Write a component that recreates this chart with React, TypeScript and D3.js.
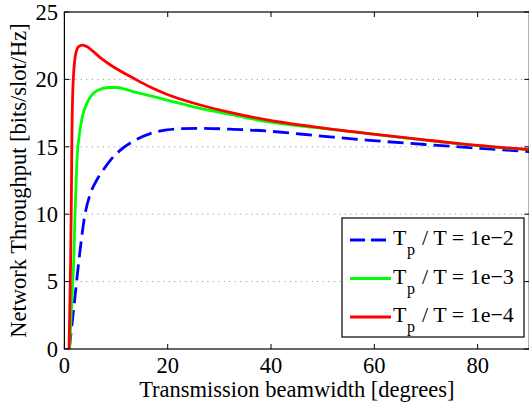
import React from "react";
import * as d3 from "d3";

const redX = [0.9, 1.2, 1.35, 1.47, 1.72, 2.25, 2.8, 3.5, 4.5, 5.5, 7, 9, 11, 13.3, 16.5, 19.8, 26.3, 32.7, 39.2, 48, 58.5, 71.4, 80, 90];
const redY = [0, 6.4, 11.3, 16.2, 20, 22, 22.45, 22.55, 22.4, 22.1, 21.6, 21.05, 20.58, 20.1, 19.45, 18.9, 18.1, 17.5, 17.0, 16.5, 16.0, 15.45, 15.1, 14.8];

const greenX = [1.0, 1.3, 1.55, 1.8, 2.05, 2.4, 2.9, 3.4, 4.0, 5.0, 6.5, 8.5, 10, 13.3, 19.8, 26.3, 32.7, 39.2, 48.8, 58.5, 71.4, 80, 90];
const greenY = [0, 2.5, 4.5, 6.4, 10, 13.8, 15.9, 17.1, 17.9, 18.7, 19.2, 19.4, 19.4, 19.1, 18.47, 17.85, 17.36, 16.86, 16.42, 16.0, 15.42, 15.08, 14.78];

const blueX = [0.95, 2.0, 3.0, 3.9, 5.0, 6.0, 7.2, 9.0, 11.5, 13.3, 16.6, 19.8, 23, 26.3, 32.7, 39.2, 45.6, 52, 58.5, 71.4, 80, 90];
const blueY = [0, 3.7, 7.2, 9.8, 11.5, 12.35, 13.1, 14.05, 14.95, 15.4, 15.98, 16.25, 16.35, 16.37, 16.3, 16.17, 15.95, 15.72, 15.5, 15.13, 14.9, 14.64];

const xTicks = [0, 20, 40, 60, 80];
const yTicks = [0, 5, 10, 15, 20, 25];
const gridY = [5, 10, 15, 20];
const legendLabels = ["1e\u22122", "1e\u22123", "1e\u22124"];

const series = [
  { xs: blueX, ys: blueY, color: "#0000ff", dash: "16 7" },
  { xs: greenX, ys: greenY, color: "#00ff00", dash: null },
  { xs: redX, ys: redY, color: "#ff0000", dash: null },
];

export default function App() {
  const W = 529, H = 403;
  const left = 64.4, right = 529.3, top = 12, bottom = 349;
  const x = d3.scaleLinear().domain([0, 90]).range([left, right]);
  const y = d3.scaleLinear().domain([0, 25]).range([bottom, top]);
  const line = d3
    .line<[number, number]>()
    .x((d) => x(d[0]))
    .y((d) => y(d[1]))
    .curve(d3.curveMonotoneX);
  const font = "'Liberation Serif', 'Times New Roman', serif";
  const fs = 22.5;
  const tl = 5;
  const lg = { x: 342, y: 218, w: 182, h: 119 };
  return (
    <svg width={W} height={H} style={{ position: "absolute", left: 0, top: 0 }} fontFamily={font}>
      <rect width={W} height={H} fill="#fff" />
      <defs>
        <clipPath id="plot">
          <rect x={left} y={top} width={right - left} height={bottom - top} />
        </clipPath>
      </defs>
      {gridY.map((v) => (
        <line key={v} x1={left} x2={right} y1={y(v)} y2={y(v)} stroke="#888" strokeWidth={1} strokeDasharray="1 4.5" />
      ))}
      <g clipPath="url(#plot)">
        {series.map((s, i) => (
          <path
            key={i}
            d={line(s.xs.map((v, j) => [v, s.ys[j]]) as [number, number][]) || ""}
            fill="none"
            stroke={s.color}
            strokeWidth={2.8}
            strokeDasharray={s.dash || undefined}
          />
        ))}
      </g>
      <rect x={left} y={top} width={right - left} height={bottom - top} fill="none" stroke="#000" strokeWidth={1.2} />
      {xTicks.map((v) => (
        <g key={v}>
          <line x1={x(v)} x2={x(v)} y1={bottom} y2={bottom - tl} stroke="#000" />
          <line x1={x(v)} x2={x(v)} y1={top} y2={top + tl} stroke="#000" />
          <text x={x(v)} y={373} fontSize={fs} textAnchor="middle">{v}</text>
        </g>
      ))}
      {yTicks.map((v) => (
        <g key={v}>
          <line x1={left} x2={left + tl} y1={y(v)} y2={y(v)} stroke="#000" />
          <line x1={right} x2={right - tl} y1={y(v)} y2={y(v)} stroke="#000" />
          <text x={58} y={y(v)} dy="0.35em" fontSize={fs} textAnchor="end">{v}</text>
        </g>
      ))}
      <text x={(left + right) / 2} y={397} fontSize={fs} textAnchor="middle">Transmission beamwidth [degrees]</text>
      <text transform={`translate(26,${(top + bottom) / 2}) rotate(-90)`} fontSize={fs} textAnchor="middle">
        Network Throughput [bits/slot/Hz]
      </text>
      <rect x={lg.x} y={lg.y} width={lg.w} height={lg.h} fill="#fff" stroke="#000" strokeWidth={1.2} />
      {series.map((s, i) => {
        const ly = 240 + i * 38.5;
        return (
          <g key={i}>
            <line x1={350} x2={391} y1={ly} y2={ly} stroke={s.color} strokeWidth={2.8} strokeDasharray={s.dash ? "15 6" : undefined} />
            <text x={393} y={ly + 5} fontSize={22}>T</text>
            <text x={407} y={ly + 15} fontSize={16}>p</text>
            <text x={422} y={ly + 5} fontSize={22}>{"/ T = " + legendLabels[i]}</text>
          </g>
        );
      })}
    </svg>
  );
}
